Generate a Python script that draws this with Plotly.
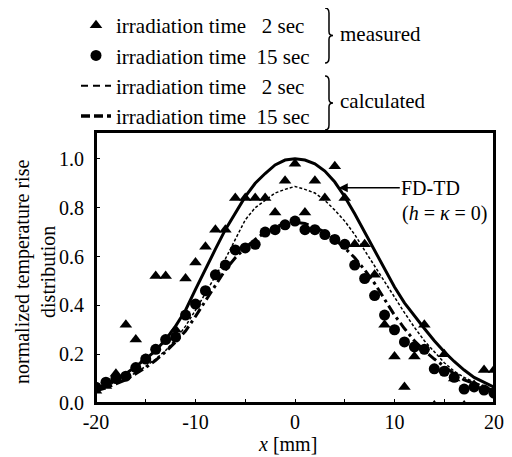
import plotly.graph_objects as go

# distance from centre [mm]
x_mm = [-20, -19, -18, -17, -16, -15, -14, -13, -12, -11, -10, -9, -8, -7, -6, -5, -4, -3, -2, -1, 0,
        1, 2, 3, 4, 5, 6, 7, 8, 9, 10, 11, 12, 13, 14, 15, 16, 17, 18, 19, 20]

# measured, irradiation time 2 sec (triangles)
meas_2s = [0.05, 0.07, 0.12, 0.32, 0.26, 0.18, 0.52, 0.52, 0.30, 0.51, 0.575, 0.64, 0.71, 0.71, 0.84, 0.84,
           0.84, 0.84, 0.78, 0.91, 0.98, 0.78, 0.91, 0.84, 0.97, 0.84, 0.65, 0.65, 0.525, 0.32, 0.19,
           0.066, 0.19, 0.32, -0.01, 0.20, 0.10, -0.01, 0.074, 0.135, 0.135]

# measured, irradiation time 15 sec (circles)
meas_15s = [0.065, 0.085, 0.10, 0.11, 0.145, 0.18, 0.22, 0.26, 0.27, 0.36, 0.405, 0.46, 0.525, 0.565, 0.627,
            0.635, 0.65, 0.70, 0.71, 0.73, 0.745, 0.71, 0.71, 0.69, 0.67, 0.65, 0.565, 0.51, 0.44, 0.36,
            0.30, 0.25, 0.23, 0.22, 0.14, 0.13, 0.105, 0.057, 0.066, 0.053, 0.04]

# FD-TD (h = kappa = 0)
fdtd = [0.06, 0.075, 0.095, 0.12, 0.15, 0.18, 0.215, 0.26, 0.315, 0.38, 0.465, 0.55, 0.63, 0.71, 0.78,
        0.845, 0.90, 0.94, 0.975, 0.995, 1.0, 0.995, 0.98, 0.95, 0.905, 0.845, 0.775, 0.70, 0.62, 0.545,
        0.475, 0.41, 0.355, 0.305, 0.255, 0.21, 0.17, 0.135, 0.105, 0.085, 0.065]

# calculated, irradiation time 2 sec
calc_2s = [0.055, 0.07, 0.085, 0.10, 0.125, 0.15, 0.18, 0.215, 0.26, 0.315, 0.38, 0.45, 0.52, 0.59, 0.67,
           0.75, 0.80, 0.83, 0.86, 0.875, 0.887, 0.875, 0.86, 0.83, 0.79, 0.745, 0.69, 0.625, 0.56, 0.50,
           0.43, 0.37, 0.31, 0.255, 0.21, 0.165, 0.13, 0.105, 0.085, 0.07, 0.055]

# calculated, irradiation time 15 sec
calc_15s = [0.05, 0.062, 0.078, 0.095, 0.12, 0.145, 0.175, 0.21, 0.25, 0.295, 0.355, 0.42, 0.485, 0.545,
            0.595, 0.635, 0.67, 0.70, 0.72, 0.735, 0.74, 0.735, 0.72, 0.70, 0.67, 0.635, 0.595, 0.545,
            0.49, 0.425, 0.36, 0.305, 0.255, 0.215, 0.18, 0.15, 0.12, 0.095, 0.08, 0.065, 0.05]

x_ticks = [-20, -15, -10, -5, 0, 5, 10, 15, 20]
x_ticklabels = ['-20', '', '-10', '', '0', '', '10', '', '20']
y_ticks = [0.0, 0.2, 0.4, 0.6, 0.8, 1.0]

label_2s = 'irradiation time\u00a0\u00a0\u00a02 sec'
label_15s = 'irradiation time\u00a0\u00a015 sec'

FONT = 'Liberation Serif'
OFF = 8  # the page body margin shifts the figure by 8 px
W, H = 512 - OFF, 457 - OFF
L, R, T, B = 88, 18, 124, 54


def px(x, y):
    # pixel position in the page -> paper coordinates
    x, y = x - OFF, y - OFF
    return (x - L) / (W - L - R), (H - B - y) / (H - T - B)


def brace(x0, top, bottom):
    mid = (top + bottom) / 2
    pts = [(x0, top), (x0 + 4, top), (x0 + 4, top + 5), (x0 + 4, mid - 4), (x0 + 4, mid), (x0 + 8, mid),
           (x0 + 4, mid), (x0 + 4, mid + 4), (x0 + 4, bottom - 5), (x0 + 4, bottom), (x0, bottom)]
    p = [px(*q) for q in pts]
    f = lambda q: f'{q[0]:.4f},{q[1]:.4f}'
    return (f'M{f(p[0])} Q{f(p[1])} {f(p[2])} L{f(p[3])} Q{f(p[4])} {f(p[5])} '
            f'Q{f(p[6])} {f(p[7])} L{f(p[8])} Q{f(p[9])} {f(p[10])}')


fig = go.Figure()

fig.add_trace(go.Scatter(x=x_mm, y=fdtd, mode='lines', line=dict(color='black', width=3), showlegend=False))
fig.add_trace(go.Scatter(x=x_mm, y=calc_2s, mode='lines', line=dict(color='black', width=1.5, dash='3px,2px'),
                         showlegend=False))
fig.add_trace(go.Scatter(x=x_mm, y=calc_15s, mode='lines',
                         line=dict(color='black', width=3, dash='10px,4px,3px,4px'), showlegend=False))

fig.add_trace(go.Scatter(x=x_mm, y=meas_2s, mode='markers', name=label_2s, legendgroup='meas',
                         marker=dict(symbol='triangle-up', size=11, color='black')))
fig.add_trace(go.Scatter(x=x_mm, y=meas_15s, mode='markers', name=label_15s, legendgroup='meas',
                         marker=dict(symbol='circle', size=11, color='black')))
# legend entries for the calculated curves
fig.add_trace(go.Scatter(x=[None], y=[None], mode='lines', name=label_2s, legendgroup='calc',
                         line=dict(color='black', width=2, dash='7px,5px')))
fig.add_trace(go.Scatter(x=[None], y=[None], mode='lines', name=label_15s, legendgroup='calc',
                         line=dict(color='black', width=3.5, dash='9px,4px')))

shapes = [dict(type='path', xref='paper', yref='paper', path=brace(325, 8, 63),
               line=dict(color='black', width=1.5)),
          dict(type='path', xref='paper', yref='paper', path=brace(325, 76, 130),
               line=dict(color='black', width=1.5)),
          # frame round the plot area
          dict(type='rect', xref='paper', yref='paper', x0=0, y0=0, x1=1, y1=1,
               line=dict(color='black', width=2))]

mx, my = px(338, 34)
cx, cy = px(338, 101)
tx, ty = px(35, 272)
xx, xy = px(287, 444)
hx, hy = px(400, 213)

annotations = [
    dict(x=mx, y=my, xref='paper', yref='paper', text='measured', showarrow=False, xanchor='left',
         yanchor='middle', font=dict(size=21)),
    dict(x=cx, y=cy, xref='paper', yref='paper', text='calculated', showarrow=False, xanchor='left',
         yanchor='middle', font=dict(size=21)),
    dict(x=tx, y=ty, xref='paper', yref='paper', text='normalized temperature rise<br>distribution',
         showarrow=False, textangle=-90, xanchor='center', yanchor='middle', font=dict(size=20)),
    dict(x=xx, y=xy, xref='paper', yref='paper', text='<i>x</i> [mm]', showarrow=False,
         xanchor='center', yanchor='middle', font=dict(size=20)),
    dict(x=4.4, y=0.882, xref='x', yref='y', text='FD-TD', ax=92, ay=0, showarrow=True,
         arrowhead=2, arrowsize=1.2, arrowwidth=1.5, arrowcolor='black', font=dict(size=20)),
    dict(x=hx, y=hy, xref='paper', yref='paper', text='(<i>h</i> = <i>κ</i> = 0)', showarrow=False,
         xanchor='left', yanchor='middle', font=dict(size=20)),
]

lx, ly = px(76, 5)
fig.update_layout(
    width=W, height=H,
    margin=dict(l=L, r=R, t=T, b=B, pad=0, autoexpand=False),
    paper_bgcolor='white', plot_bgcolor='white',
    font=dict(family=FONT, size=20, color='black'),
    shapes=shapes, annotations=annotations,
    legend=dict(x=lx, y=ly, xanchor='left', yanchor='top', traceorder='grouped', tracegroupgap=0,
                bgcolor='rgba(0,0,0,0)', font=dict(family=FONT, size=21)),
    xaxis=dict(range=[-20, 20], tickvals=x_ticks, ticktext=x_ticklabels, ticks='inside', ticklen=4,
               tickcolor='black', showline=True, linecolor='black', linewidth=2, mirror=True,
               showgrid=False, zeroline=False, ticklabelstandoff=0),
    yaxis=dict(range=[0, 1.11], tickvals=y_ticks, tickformat='.1f', ticks='inside', ticklen=4,
               tickcolor='black', showline=True, linecolor='black', linewidth=2, mirror=True,
               showgrid=False, zeroline=False, ticklabelstandoff=6),
)

fig.write_html('out.html')
